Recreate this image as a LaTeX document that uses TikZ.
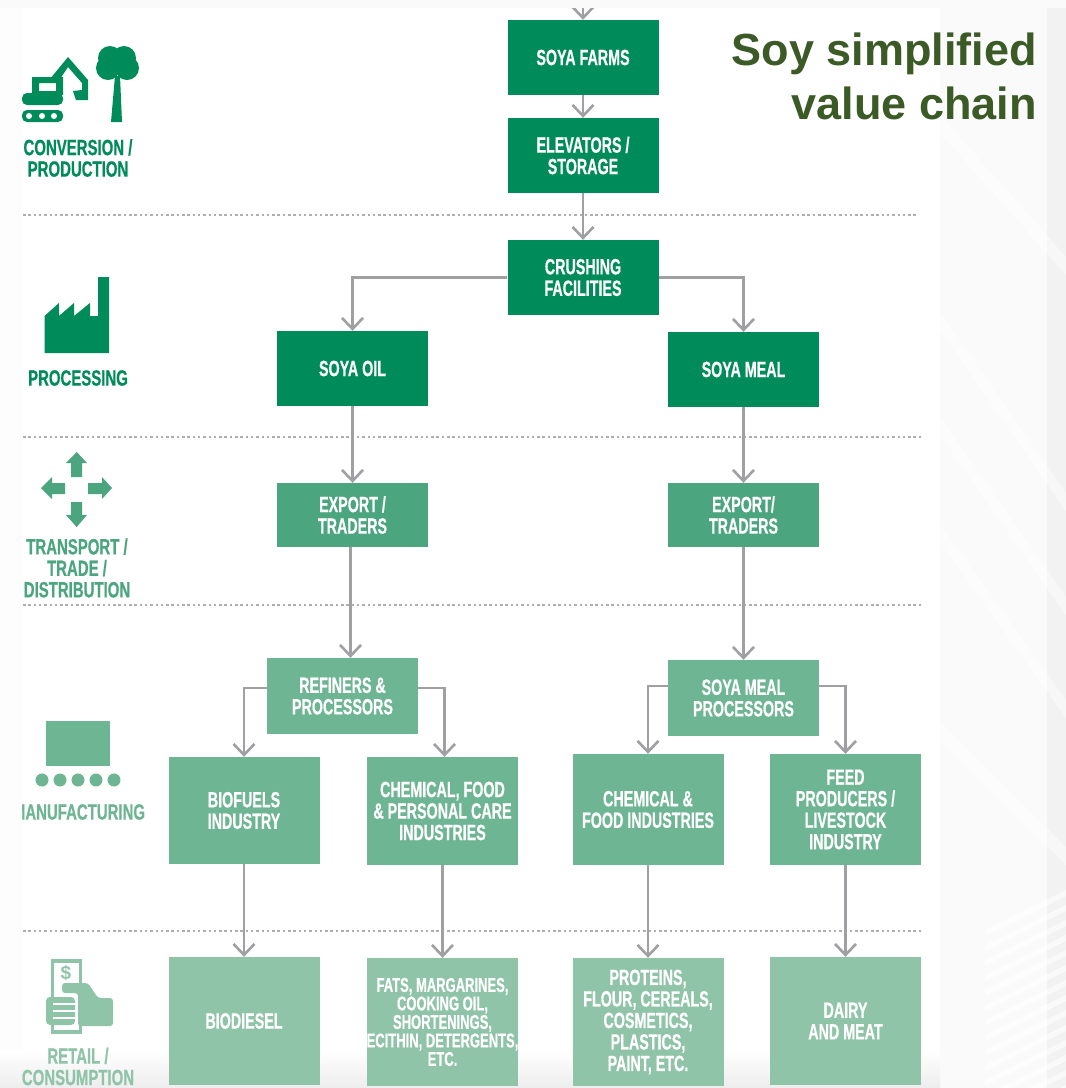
\documentclass[tikz,border=0pt]{standalone}
\usepackage{fontspec}
\setmainfont{Liberation Sans}
\newfontfamily\dinfont[FakeStretch=0.65,BoldFeatures={FakeBold=0.6}]{Liberation Sans}
\newfontfamily\labelfont[FakeStretch=0.68,BoldFeatures={FakeBold=0.6}]{Liberation Sans}
\usetikzlibrary{arrows.meta}
\definecolor{darkgreen}{HTML}{008C5A}
\definecolor{midgreen}{HTML}{4BA67F}
\definecolor{lightgreen}{HTML}{6EB594}
\definecolor{palegreen}{HTML}{90C4A8}
\definecolor{titlegreen}{HTML}{3B5A25}
\definecolor{linegray}{HTML}{A0A0A4}
\tikzset{stagebox/.style={rectangle,inner sep=0pt,text=white,align=center,
  font=\dinfont\bfseries\fontsize{22}{21.5}\selectfont}}
\tikzset{stagelabel/.style={inner sep=0pt,align=center,
  font=\labelfont\bfseries\fontsize{22}{21.5}\selectfont}}
\tikzset{flow/.style={draw=linegray,line width=2.6pt,-{Straight Barb[length=11pt,width=21pt,line width=2.6pt]}}}
\tikzset{stageline/.style={draw=linegray!85,line width=2pt,dash pattern=on 2.5pt off 2.8pt}}

\begin{document}
\begin{tikzpicture}[x=1pt,y=-1pt]
  \useasboundingbox (0,0) rectangle (1066,1088);

  % Background
  \fill [white] (0,0) rectangle (1066,1088);
  \fill [black!2] (940,0) rectangle (1066,1088);
  \fill [black!5] (1047,0) rectangle (1066,1088);
  \shade [top color=white,bottom color=black!7] (0,1050) rectangle (940,1088);
  \foreach \ya/\yb in {115/257,312/493,417/597,524/700,722/847}
    \fill [white,opacity=.45] (940,\ya) -- (1066,\yb) -- (1066,\yb+18) -- (940,\ya+18) -- cycle;
  \foreach \ya in {890,905,...,1085}
    \fill [white,opacity=.6] (985,\ya+40) -- (1066,\ya) -- (1066,\ya+6) -- (985,\ya+46) -- cycle;

  % Stage separators
  \foreach \yl/\xr in {215/917,437/921,605/921,931/921}
    \draw [stageline] (23,\yl) -- (\xr,\yl);

  % Dark boxes
  \begin{scope}[every node/.style={stagebox,fill=darkgreen,minimum width=151pt,minimum height=75pt}]
    \node (farms) at (583,57.5) {SOYA FARMS};
    \node (elevators) at (583,155.5) {ELEVATORS /\\STORAGE};
    \node (crushing) at (583,277.5) {CRUSHING\\FACILITIES};
    \node (oil) at (352.5,368.5) {SOYA OIL};
    \node (meal) at (743.5,369.5) {SOYA MEAL};
  \end{scope}

  % Export
  \begin{scope}[every node/.style={stagebox,fill=midgreen,minimum width=151pt,minimum height=64pt}]
    \node (exportoil) at (352.5,515) {EXPORT /\\TRADERS};
    \node (exportmeal) at (743.5,515) {EXPORT/\\TRADERS};
  \end{scope}

  % Manufacturing
  \begin{scope}[every node/.style={stagebox,fill=lightgreen,minimum width=151pt}]
    \node [minimum height=76pt] (refiners) at (342.5,696) {REFINERS \&\\PROCESSORS};
    \node [minimum height=76pt] (mealproc) at (743.5,698) {SOYA MEAL\\PROCESSORS};
    \node [minimum height=107pt] (biofuels) at (244,810.5) {BIOFUELS\\INDUSTRY};
    \node [minimum height=108pt] (chemcare) at (442.5,811) {CHEMICAL, FOOD\\\& PERSONAL CARE\\INDUSTRIES};
    \node [minimum height=111pt] (chemfood) at (648,809.5) {CHEMICAL \&\\FOOD INDUSTRIES};
    \node [minimum height=111pt] (feed) at (845.5,809.5) {FEED\\PRODUCERS /\\LIVESTOCK\\INDUSTRY};
  \end{scope}

  % Retail
  \begin{scope}[every node/.style={stagebox,fill=palegreen,minimum width=151pt,minimum height=128pt}]
    \node (biodiesel) at (244,1021) {BIODIESEL};
    \node [font=\dinfont\bfseries\fontsize{20}{18.5}\selectfont] (fats) at (442.5,1022) {FATS, MARGARINES,\\COOKING OIL,\\SHORTENINGS,\\ECITHIN, DETERGENTS,\\ETC.};
    \node (proteins) at (648,1022) {PROTEINS,\\FLOUR, CEREALS,\\COSMETICS,\\PLASTICS,\\PAINT, ETC.};
    \node (dairy) at (845.5,1021) {DAIRY\\AND MEAT};
  \end{scope}

  % Arrows
  \coordinate (source) at (583,0);
  \draw [flow] (source) -- (farms.north);
  \draw [flow] (farms) -- (elevators);
  \draw [flow] (elevators) -- (crushing);
  \draw [flow] (crushing.west) -| (oil.north);
  \draw [flow] (crushing.east) -| (meal.north);
  \draw [flow] (oil) -- (exportoil);
  \draw [flow] (meal) -- (exportmeal);
  \draw [flow] ([xshift=-2pt]exportoil.south) -- ([xshift=-2pt]exportoil.south |- refiners.north);
  \draw [flow] (exportmeal) -- (mealproc);
  \draw [flow] ([yshift=8pt]refiners.west) -| (biofuels.north);
  \draw [flow] ([yshift=8pt]refiners.east) -| ([xshift=2pt]chemcare.north);
  \draw [flow] ([yshift=12pt]mealproc.west) -| (chemfood.north);
  \draw [flow] ([yshift=12pt]mealproc.east) -| (feed.north);
  \draw [flow] (biofuels) -- (biodiesel);
  \draw [flow] (chemcare) -- (fats);
  \draw [flow] (chemfood) -- (proteins);
  \draw [flow] (feed) -- (dairy);

  % Top band
  \fill [black!2] (0,0) rectangle (1066,8);

  % Title
  \node [inner sep=0pt,anchor=east,align=right,text=titlegreen,
         font=\bfseries\fontsize{45}{54}\selectfont] (title) at (1037,76) {Soy simplified\\value chain};

  % Stage labels
  \node [stagelabel,text=darkgreen] (conversion) at (78,158) {CONVERSION /\\PRODUCTION};
  \node [stagelabel,text=darkgreen] (processing) at (78,378) {PROCESSING};
  \node [stagelabel,text=midgreen] (transport) at (77,568) {TRANSPORT /\\TRADE /\\DISTRIBUTION};
  \node [stagelabel,text=lightgreen] (manufacturing) at (79,812) {MANUFACTURING};
  \node [stagelabel,text=palegreen] (retail) at (78,1066.5) {RETAIL /\\CONSUMPTION};
  \fill [black!.6] (0,8) rectangle (22,1050);

  % Excavator and tree
  \begin{scope}[darkgreen]
    \fill [rounded corners=5pt] (22,93) rectangle (63,105);
    \fill [even odd rule] (32,77) rectangle (63,95) (39,83) rectangle (56,91);
    \fill (50,79) -- (68,57) -- (88,80) -- (88,100) -- (76,100) -- (73,91) -- (82,90) -- (82,83) -- (68,67) -- (60,79) -- cycle;
    \fill [rounded corners=5pt] (22,110) rectangle (63,122);
    \foreach \xd in {29,42,54}
      \fill [white] (\xd,116) circle (3pt);
    \fill (111,122) -- (122,122) -- (120,76) -- (115,76) -- cycle;
    \foreach \xc/\yc/\rc in {110/58/12,124/58/12,108/68/12,127/68/12}
      \fill (\xc,\yc) circle (\rc pt);
  \end{scope}

  % Factory
  \fill [darkgreen] (44.5,353) -- (44.5,316) -- (59,303) -- (59,316) -- (74,303) -- (74,316) -- (90,303) -- (90,316)
    -- (98,316) -- (98,277) -- (109,277) -- (109,353) -- cycle;

  % Transport arrows
  \begin{scope}[midgreen]
    \fill (76.7,452) -- (87,463) -- (82,463) -- (82,477) -- (71,477) -- (71,463) -- (66,463) -- cycle;
    \fill (76.7,527) -- (87,515) -- (82,515) -- (82,502) -- (71,502) -- (71,515) -- (66,515) -- cycle;
    \fill (41,488) -- (52,477) -- (52,483) -- (65,483) -- (65,494) -- (52,494) -- (52,499) -- cycle;
    \fill (112,488) -- (102,477) -- (102,483) -- (88,483) -- (88,494) -- (102,494) -- (102,499) -- cycle;
  \end{scope}

  % Manufacturing icon
  \fill [lightgreen] (46,721) rectangle (110,766);
  \foreach \xd in {42,60,78,96,114}
    \fill [lightgreen] (\xd,780) circle (6.5pt);

  % Retail icon
  \begin{scope}[palegreen]
    \draw [line width=3.5pt] (52.5,961) rectangle (80.5,1032);
    \node [inner sep=0pt,text=palegreen,font=\bfseries\fontsize{19}{19}\selectfont] (dollar) at (66,973) {\$};
    \fill [white] (74,993) rectangle (79,1030);
    \fill [rounded corners=3pt] (62,983) -- (88,983) -- (98,998) -- (113,998) -- (113,1026) -- (78,1026) -- (78,993) -- (62,993) -- cycle;
    \fill [rounded corners=4pt] (46,997) rectangle (75,1025);
    \foreach \yf in {1004,1011,1018}
      \draw [white,line width=1.6pt] (53,\yf) -- (75,\yf);
  \end{scope}
\end{tikzpicture}
\end{document}
